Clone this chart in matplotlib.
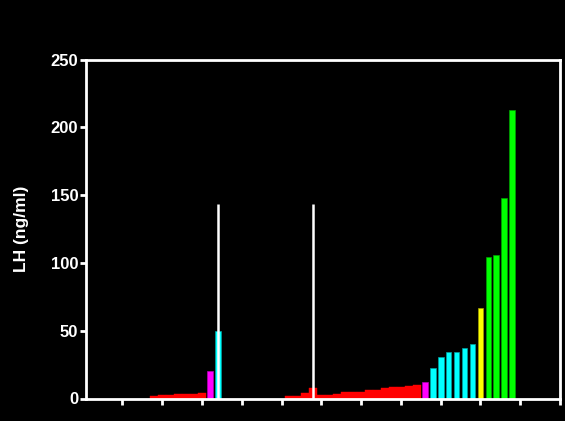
import matplotlib
matplotlib.use("Agg")
import matplotlib.pyplot as plt

# Data
red1_x = [9, 10, 11, 12, 13, 14, 15]
red1_v = [1.8, 2.3, 2.8, 3.0, 3.2, 3.5, 4.2]
red2_x = list(range(26, 43))
red2_v = [1.8, 1.9, 3.8, 7.8, 2.3, 2.3, 3.1, 4.6, 4.8, 5.0, 6.0, 6.0, 7.5, 8.3, 8.6, 9.2, 9.7]
magenta_x = [16, 43]
magenta_v = [20, 12.2]
cyan_x = [17, 44, 45, 46, 47, 48, 49]
cyan_v = [50, 22.3, 30.6, 34.3, 34.6, 37.5, 40.2]
yellow_x = [50]
yellow_v = [66.6]
green_x = [51, 52, 53, 54]
green_v = [104, 105.5, 148, 213]
line_x = [17, 29]
line_top = [143.6, 143.6]
yticks = [0, 50, 100, 150, 200, 250]
xticks = list(range(5, 61, 5))

plt.rcParams['font.family'] = ['Liberation Sans', 'DejaVu Sans']
fig = plt.figure(figsize=(5.65, 4.21), dpi=100, facecolor='black')
ax = fig.add_axes([86/565, 1 - 398.5/421, (560-86)/565, (398.5-59.5)/421])
ax.set_facecolor('black')

ax.bar(red1_x, red1_v, width=1.0, color='#ff0000', edgecolor='#ff0000', linewidth=0.3, zorder=2)
ax.bar(red2_x, red2_v, width=1.0, color='#ff0000', edgecolor='#ff0000', linewidth=0.3, zorder=2)
ax.bar(magenta_x, magenta_v, width=0.72, color='#ff00ff', edgecolor='#b000b0', linewidth=0.5, zorder=2)
ax.bar(cyan_x, cyan_v, width=0.72, color='#00ffff', edgecolor='#00a0a0', linewidth=0.5, zorder=2)
ax.bar(yellow_x, yellow_v, width=0.72, color='#ffff00', edgecolor='#a0a000', linewidth=0.5, zorder=2)
ax.bar(green_x, green_v, width=0.72, color='#00ff00', edgecolor='#00a000', linewidth=0.5, zorder=2)
ax.vlines(line_x, 0, line_top, colors='white', linewidth=1.8, zorder=3)

ax.set_xlim(0.43, 60.0)
ax.set_ylim(0, 250)
ax.set_yticks(yticks)
ax.set_xticks(xticks)
ax.set_xticklabels([])
for s in ax.spines.values():
    s.set_color('white')
    s.set_linewidth(2)
ax.tick_params(axis='y', colors='white', direction='out', length=4, width=2, labelsize=12, pad=1.5)
ax.tick_params(axis='x', colors='white', direction='out', length=4.5, width=2)
for lab in ax.get_yticklabels():
    lab.set_fontweight('bold')
ax.set_ylabel('LH (ng/ml)', color='white', fontsize=12.5, fontweight='bold', labelpad=16)

fig.savefig('out.png', dpi=100, facecolor='black')
